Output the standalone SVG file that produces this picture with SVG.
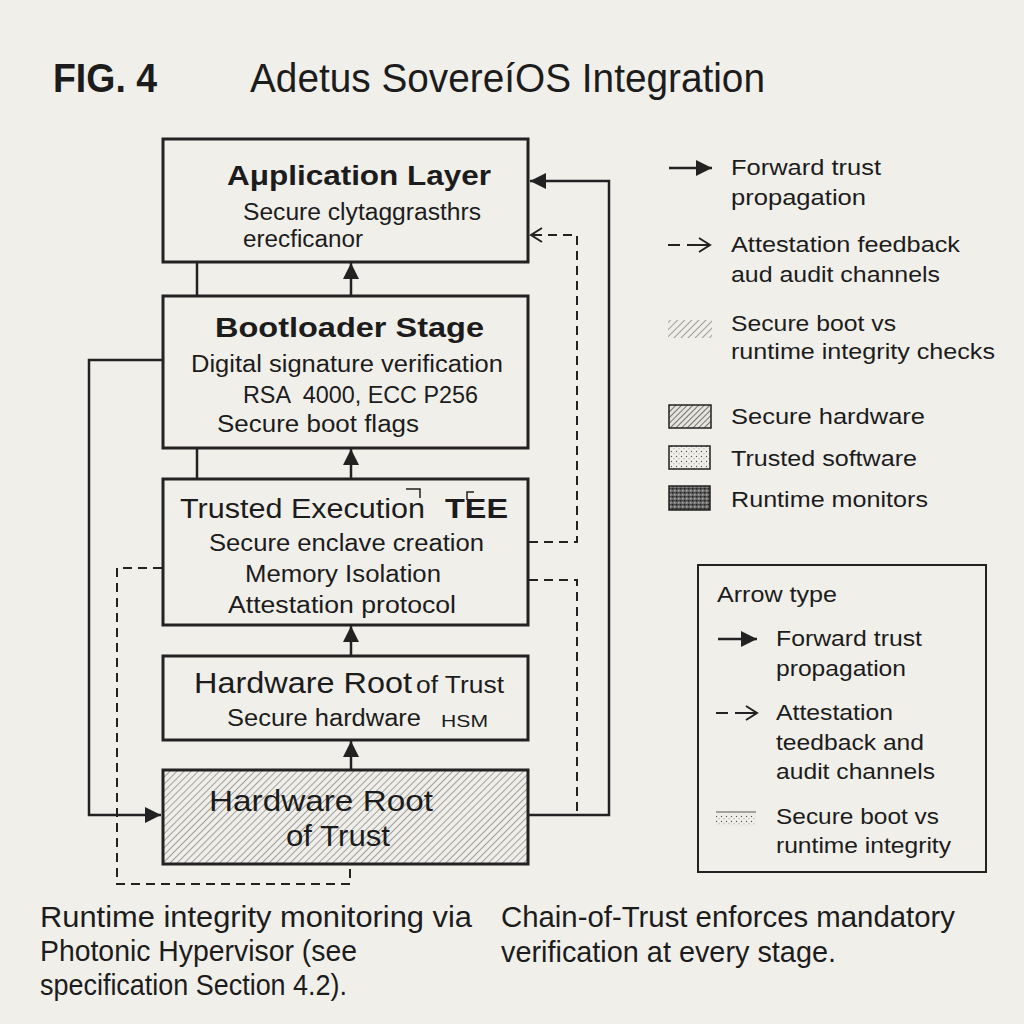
<svg xmlns="http://www.w3.org/2000/svg" width="1024" height="1024" viewBox="0 0 1024 1024">
<style>
text{font-family:"Liberation Sans",Arial,sans-serif;fill:#1c1c1c}
.box{fill:#f1efea;stroke:#222;stroke-width:3}
.ttl{font-size:28px;font-weight:bold}
.t{font-size:23px}
.lg{font-size:22px}
.c{fill:none;stroke:#222;stroke-width:2.5}
.d{fill:none;stroke:#222;stroke-width:2;stroke-dasharray:9,6}
.bt{font-size:30px}
</style>
<defs>
<marker id="af" markerUnits="userSpaceOnUse" markerWidth="18" markerHeight="18" refX="16" refY="8" orient="auto"><path d="M0,0 L16,8 L0,16 z" fill="#222"/></marker>
<marker id="ao" markerUnits="userSpaceOnUse" markerWidth="16" markerHeight="18" refX="13" refY="8" orient="auto"><path d="M2,1 L13,8 L2,15" fill="none" stroke="#222" stroke-width="2"/></marker>
<pattern id="hatch" width="5" height="5" patternUnits="userSpaceOnUse" patternTransform="rotate(45)"><rect width="5" height="5" fill="#efeee9"/><line x1="0" y1="0" x2="0" y2="5" stroke="#6a6a6a" stroke-width="1.2"/></pattern>
<pattern id="hatch2" width="4" height="4" patternUnits="userSpaceOnUse" patternTransform="rotate(45)"><rect width="4" height="4" fill="#e6e4de"/><line x1="0" y1="0" x2="0" y2="4" stroke="#333" stroke-width="1.3"/></pattern>
<pattern id="dots" width="5" height="5" patternUnits="userSpaceOnUse"><rect width="5" height="5" fill="#f1efea"/><circle cx="1.5" cy="1.5" r="0.7" fill="#555"/><circle cx="4" cy="3.8" r="0.5" fill="#777"/></pattern>
<pattern id="dark" width="4" height="4" patternUnits="userSpaceOnUse"><rect width="4" height="4" fill="#666"/><rect x="0" y="0" width="1.5" height="1.5" fill="#222"/><rect x="2" y="2" width="1.5" height="1.5" fill="#aaa"/><rect x="2.5" y="0" width="1" height="1" fill="#333"/></pattern>
</defs>
<rect width="1024" height="1024" fill="#f1efea"/>

<g id="title">
<text x="53" y="92" font-size="40" font-weight="bold" textLength="104" lengthAdjust="spacingAndGlyphs">FIG. 4</text>
<text x="250" y="92" font-size="40" textLength="515" lengthAdjust="spacingAndGlyphs">Adetus SovereíOS Integration</text>
</g>

<g id="connectors">
<line class="c" x1="351" y1="295" x2="351" y2="263" marker-end="url(#af)"/>
<line class="c" x1="351" y1="478" x2="351" y2="449" marker-end="url(#af)"/>
<line class="c" x1="351" y1="655" x2="351" y2="626" marker-end="url(#af)"/>
<line class="c" x1="351" y1="769" x2="351" y2="741" marker-end="url(#af)"/>
<polyline class="c" points="197,295 197,219 231,219" marker-end="url(#ao)"/>
<line class="c" x1="197" y1="449" x2="197" y2="478"/>
<polyline class="c" points="529,815 609,815 609,181 530,181" marker-end="url(#af)"/>
<polyline class="c" points="162,360 89,360 89,815 161,815" marker-end="url(#af)"/>
<polyline class="d" points="529,542 577,542 577,235 531,235" marker-end="url(#ao)"/>
<polyline class="d" points="529,580 577,580 577,813"/>
<polyline class="d" points="162,568 117,568 117,884 350,884 350,865"/>
</g>

<g id="app">
<rect class="box" x="163" y="139" width="365" height="123"/>
<text class="ttl" x="227" y="185" font-weight="600" textLength="264" lengthAdjust="spacingAndGlyphs">Aμplication Layer</text>
<text class="t" x="243" y="220" textLength="238" lengthAdjust="spacingAndGlyphs">Secure clytaggrasthrs</text>
<text class="t" x="243" y="247" textLength="120" lengthAdjust="spacingAndGlyphs">erecficanor</text>
</g>

<g id="boot">
<rect class="box" x="163" y="296" width="365" height="152"/>
<text class="ttl" x="215" y="337" textLength="269" lengthAdjust="spacingAndGlyphs">Bootloader Stage</text>
<text class="t" x="191" y="372" textLength="312" lengthAdjust="spacingAndGlyphs">Digital signature verification</text>
<text class="t" x="243" y="403" xml:space="preserve" textLength="235" lengthAdjust="spacingAndGlyphs">RSA  4000, ECC P256</text>
<text class="t" x="217" y="432" textLength="202" lengthAdjust="spacingAndGlyphs">Secure boot flags</text>
</g>

<g id="tee">
<rect class="box" x="163" y="479" width="365" height="146"/>
<text x="180" y="518" font-size="27" textLength="245" lengthAdjust="spacingAndGlyphs">Trusted Execution</text>
<text x="445" y="518" font-size="27" font-weight="600" textLength="63" lengthAdjust="spacingAndGlyphs">TEE</text>
<polyline points="406,489 420,489 420,498" fill="none" stroke="#222" stroke-width="1.5"/>
<polyline points="467,500 467,492 474,492" fill="none" stroke="#222" stroke-width="1.5"/>
<text class="t" x="209" y="551" textLength="275" lengthAdjust="spacingAndGlyphs">Secure enclave creation</text>
<text class="t" x="245" y="582" textLength="196" lengthAdjust="spacingAndGlyphs">Memory Isolation</text>
<text class="t" x="228" y="613" textLength="228" lengthAdjust="spacingAndGlyphs">Attestation protocol</text>
</g>

<g id="hrot">
<rect class="box" x="163" y="656" width="365" height="84"/>
<text x="194" y="693" font-size="29" textLength="218" lengthAdjust="spacingAndGlyphs">Hardware Root</text>
<text x="416" y="693" font-size="23" textLength="88" lengthAdjust="spacingAndGlyphs">of Trust</text>
<text class="t" x="227" y="726" textLength="194" lengthAdjust="spacingAndGlyphs">Secure hardware</text>
<text x="441" y="727" font-size="16" textLength="47" lengthAdjust="spacingAndGlyphs">HSM</text>
</g>

<g id="hrot2">
<rect x="163" y="770" width="365" height="94" fill="url(#hatch)" stroke="#222" stroke-width="3"/>
<text x="209" y="811" font-size="29" textLength="224" lengthAdjust="spacingAndGlyphs">Hardware Root</text>
<text x="286" y="846" font-size="29" textLength="104" lengthAdjust="spacingAndGlyphs">of Trust</text>
</g>

<g id="legend">
<line class="c" x1="669" y1="168" x2="712" y2="168" marker-end="url(#af)"/>
<text class="lg" x="731" y="175" textLength="150" lengthAdjust="spacingAndGlyphs">Forward trust</text>
<text class="lg" x="731" y="205" textLength="135" lengthAdjust="spacingAndGlyphs">propagation</text>
<line x1="668" y1="245" x2="680" y2="245" stroke="#222" stroke-width="2"/>
<line x1="687" y1="245" x2="710" y2="245" stroke="#222" stroke-width="2" marker-end="url(#ao)"/>
<text class="lg" x="731" y="252" textLength="229" lengthAdjust="spacingAndGlyphs">Attestation feedback</text>
<text class="lg" x="731" y="282" textLength="209" lengthAdjust="spacingAndGlyphs">aud audit channels</text>
<rect x="668" y="320" width="44" height="18" fill="url(#hatch)"/>
<text class="lg" x="731" y="331" textLength="165" lengthAdjust="spacingAndGlyphs">Secure boot vs</text>
<text class="lg" x="731" y="359" textLength="264" lengthAdjust="spacingAndGlyphs">runtime integrity checks</text>
<rect x="669" y="405" width="42" height="23" fill="url(#hatch2)" stroke="#222" stroke-width="1.5"/>
<text class="lg" x="731" y="424" textLength="194" lengthAdjust="spacingAndGlyphs">Secure hardware</text>
<rect x="669" y="446" width="41" height="23" fill="url(#dots)" stroke="#222" stroke-width="1.5"/>
<text class="lg" x="731" y="466" textLength="186" lengthAdjust="spacingAndGlyphs">Trusted software</text>
<rect x="669" y="486" width="41" height="24" fill="url(#dark)" stroke="#222" stroke-width="1.5"/>
<text class="lg" x="731" y="507" textLength="197" lengthAdjust="spacingAndGlyphs">Runtime monitors</text>
</g>

<g id="arrowtype">
<rect x="698" y="565" width="288" height="307" fill="none" stroke="#222" stroke-width="2"/>
<text class="lg" x="717" y="602" textLength="120" lengthAdjust="spacingAndGlyphs">Arrow type</text>
<line class="c" x1="718" y1="639" x2="757" y2="639" marker-end="url(#af)"/>
<text class="lg" x="776" y="646" textLength="146" lengthAdjust="spacingAndGlyphs">Forward trust</text>
<text class="lg" x="776" y="676" textLength="130" lengthAdjust="spacingAndGlyphs">propagation</text>
<line x1="716" y1="713" x2="728" y2="713" stroke="#222" stroke-width="2"/>
<line x1="735" y1="713" x2="757" y2="713" stroke="#222" stroke-width="2" marker-end="url(#ao)"/>
<text class="lg" x="776" y="720" textLength="117" lengthAdjust="spacingAndGlyphs">Attestation</text>
<text class="lg" x="776" y="750" textLength="148" lengthAdjust="spacingAndGlyphs">teedback and</text>
<text class="lg" x="776" y="779" textLength="159" lengthAdjust="spacingAndGlyphs">audit channels</text>
<line x1="716" y1="812" x2="756" y2="812" stroke="#555" stroke-width="1"/>
<rect x="716" y="814" width="40" height="12" fill="url(#dots)"/>
<text class="lg" x="776" y="824" textLength="163" lengthAdjust="spacingAndGlyphs">Secure boot vs</text>
<text class="lg" x="776" y="853" textLength="175" lengthAdjust="spacingAndGlyphs">runtime integrity</text>
</g>

<g id="notes">
<text class="bt" x="40" y="927" textLength="432" lengthAdjust="spacingAndGlyphs">Runtime integrity monitoring via</text>
<text class="bt" x="40" y="961" textLength="317" lengthAdjust="spacingAndGlyphs">Photonic Hypervisor (see</text>
<text class="bt" x="40" y="995" textLength="307" lengthAdjust="spacingAndGlyphs">specification Section 4.2).</text>
<text class="bt" x="501" y="927" textLength="454" lengthAdjust="spacingAndGlyphs">Chain-of-Trust enforces mandatory</text>
<text class="bt" x="501" y="962" textLength="335" lengthAdjust="spacingAndGlyphs">verification at every stage.</text>
</g>
</svg>
